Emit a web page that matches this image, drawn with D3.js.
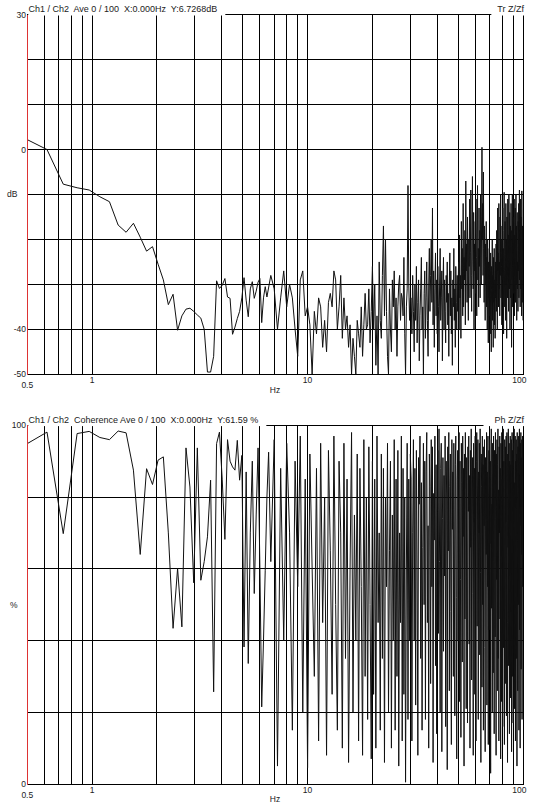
<!DOCTYPE html>
<html>

<head>
    <title>Ch1 / Ch2</title>
    <meta charset="utf-8">
    <script src="https://cdn.jsdelivr.net/npm/d3@7"></script>
    <style>
        body { margin: 0; background: #fff; }
        svg { display: block; font-family: "Liberation Sans", Arial, sans-serif; }
        text { white-space: pre; fill: #222; }
    </style>
</head>

<body>
    <svg width="536" height="810"></svg>
</body>
<script>
    // frequency grids (Hz): start + i * step
    const lowStart = 0.5, lowStep = 0.1171875;
    const midStart = 6.75, midStep = 0.25;
    const highStart = 30.25, highStep = 0.25;

    // transfer function, dB
    const trLow = [
        2.2, 0, -7.7, -8.5, -9.0, -10.5, -11.6, -16.8, -18.4, -16.4,
        -19.5, -22.6, -21.6, -25.5, -29.0, -34.5, -32.2, -40.2, -37.0, -35.5,
        -35.3, -36.0, -36.8, -37.5, -40.0, -49.5, -49.5, -46.0, -29.2, -30.9,
        -30.2, -28.7, -32.8, -33.1, -41.1, -39.5, -37.6, -36.0, -33.0, -28.5,
        -33.5, -37.2, -31.0, -29.4, -33.1, -31.5, -29.5, -28.7, -38.5, -33.0,
        -30.5, -32.8
    ];
    const trMid = [
        -28, -31, -40, -33, -27, -35, -30, -33, -40, -46,
        -29, -27, -37, -35, -39, -50, -36, -41, -33, -35,
        -44, -38, -45, -34, -32, -35, -27, -29, -40, -35,
        -28, -42, -33, -40, -37, -44, -39, -50, -42, -46,
        -50, -38, -41, -44, -35, -46, -39, -32, -40, -39,
        -31, -43, -36, -26, -40, -30, -48, -37, -50, -25,
        -38, -42, -28, -17, -37, -20, -36, -46, -50, -31,
        -40, -45, -29, -35, -27, -40, -33, -46, -35, -30,
        -28, -38, -32, -33, -37, -24, -41, -50, -35, -31,
        -8, -30, -38, -33
    ];
    const trHigh = [
        -33, -41, -28, -36, -45, -30, -38, -26, -43, -34,
        -29, -47, -37, -31, -24, -40, -35, -50, -32, -27,
        -42, -33, -25, -38, -46, -30, -22, -36, -28, -20,
        -34, -13, -39, -27, -44, -31, -23, -37, -29, -41,
        -26, -35, -45, -30, -22, -38, -33, -27, -47, -31,
        -24, -40, -29, -36, -43, -28, -34, -25, -39, -32,
        -46, -30, -23, -37, -27, -41, -33, -48, -29, -35,
        -22, -38, -31, -44, -26, -34, -40, -28, -36, -30,
        -25, -40, -19, -33, -28, -42, -16, -31, -22, -37,
        -12, -35, -24, -29, -18, -39, -7, -27, -21, -34,
        -15, -30, -38, -20, -26, -11, -33, -23, -9, -28,
        -36, -17, -6, -25, -31, -14, -40, -21, -27, -16,
        -32, -11, -24, -37, -19, -8, -29, -22, -35, -13,
        -26, -18, -33, -10, -23, -30, -15, 0.5, -20, -12,
        -28, -5, -22, -34, -17, -26, -38, -21, -30, -16,
        -35, -24, -40, -20, -29, -43, -25, -33, -22, -37,
        -27, -41, -23, -35, -45, -26, -31, -20, -38, -28,
        -44, -24, -34, -22, -39, -29, -42, -25, -33, -21,
        -36, -18, -30, -40, -13, -27, -23, -35, -12, -31,
        -25, -37, -15, -28, -10, -33, -20, -26, -39, -17,
        -29, -13, -34, -22, -41, -18, -9.5, -27, -35, -16,
        -24, -38, -12, -30, -20, -42, -15, -26, -33, -11,
        -28, -19, -36, -10, -25, -31, -14, -40, -22, -17,
        -33, -12, -27, -44, -18, -29, -10, -35, -21, -26,
        -15, -32, -23, -11, -37, -19, -28, -13, -34, -24,
        -10, -30, -17, -38, -22, -14, -31, -25, -36, -16,
        -27, -12, -33, -20, -9, -29, -18, -35, -23, -11,
        -31, -15, -26, -37, -9.2, -21, -34, -17, -28, -38
    ];

    // coherence, %
    const cohLow = [
        94.9, 98.1, 69.8, 97.7, 98.3, 96.6, 96.0, 98.4, 97.9, 87.5,
        64.0, 87.9, 83.5, 90.3, 91.2, 70.0, 43.4, 60.1, 43.8, 93.7,
        82.8, 56.1, 93.7, 56.8, 62.0, 68.9, 84.7, 25.7, 94.9, 98.1,
        85.0, 68.2, 96.0, 90.0, 88.4, 87.5, 95.8, 84.7, 91.6, 38.2,
        87.0, 33.6, 70.0, 90.0, 53.1, 75.0, 93.7, 60.0, 21.5, 40.0,
        59.6, 80.0, 92.5
    ];
    const cohMid = [
        62, 96, 5, 88, 40, 95, 70, 15, 90, 55,
        97, 20, 85, 4.5, 92, 60, 30, 88, 12, 95,
        45, 80, 8, 93, 65, 25, 97, 50, 15, 90,
        70, 10, 95, 35, 85, 6, 60, 98, 20, 75,
        40, 92, 12, 88, 55, 8, 96, 30, 80, 18,
        94, 50, 7, 90, 25, 85, 10, 97, 45, 70,
        15, 92, 35, 88, 6, 80, 55, 95, 20, 65,
        90, 10, 75, 40, 96, 15, 85, 30, 93, 5,
        70, 45, 97, 12, 88, 25, 80, 0.5, 60, 95,
        18, 85, 40, 92
    ];
    const cohHigh = [
        85, 12, 70, 96, 40, 88, 22, 93, 60, 8,
        91, 78, 97, 35, 84, 15, 66, 95, 50, 90,
        18, 87, 98, 45, 72, 10, 92, 83, 28, 96,
        55, 94, 6, 81, 68, 97, 33, 89, 14, 76,
        93, 42, 99, 62, 20, 88, 95, 9, 74, 91,
        37, 86, 58, 97, 16, 90, 80, 4, 94, 65,
        98, 26, 83, 92, 48, 11, 96, 71, 87, 30,
        95, 63, 19, 89, 97, 52, 7, 85, 93, 40,
        79, 98, 23, 90, 57, 13, 95, 84, 34, 97,
        69, 88, 5, 92, 46, 98, 82, 21, 91, 60,
        17, 94, 76, 97, 39, 86, 10, 93, 66, 99,
        29, 84, 91, 53, 8, 95, 73, 88, 25, 97,
        61, 12, 90, 98, 44, 80, 96, 18, 87, 70,
        95, 36, 99, 59, 6, 92, 83, 27, 97, 50,
        89, 15, 94, 72, 96, 38, 9, 91, 85, 64,
        98, 22, 87, 55, 97, 11, 80, 93, 43, 96,
        67, 90, 3, 85, 99, 49, 78, 20, 95, 88,
        31, 97, 62, 14, 93, 86, 41, 98, 74, 8,
        92, 57, 96, 26, 89, 99, 35, 82, 12, 94,
        70, 97, 46, 88, 7, 95, 79, 23, 98, 60,
        85, 16, 93, 99, 38, 90, 54, 11, 96, 81,
        28, 94, 73, 97, 19, 87, 98, 45, 6, 92,
        66, 99, 33, 85, 95, 14, 90, 58, 97, 24,
        89, 48, 96, 9, 82, 98, 30, 93, 71, 17,
        95, 62, 88, 99, 21, 84, 40, 97, 12, 90,
        77, 96, 35, 92, 5, 98, 68, 26, 94, 83,
        50, 97, 15, 89, 99, 43, 86, 10, 95, 72,
        98, 32, 91, 64, 96, 18, 88, 97, 55, 90
    ];

    const freqLabels = [0.5, 1, 10, 100];
    const dbLabels = [30, 0, -40, -50];
    const cohLabels = [100, 0];

    var svg = d3.select("svg");
    var plotLeft = 27.3, plotRight = 523;

    var x = d3.scaleLog().domain([0.5, 100]).range([plotLeft, plotRight]);

    function series(start, step, vals) {
        return vals.map(function (v, i) { return { f: start + i * step, v: v }; });
    }
    function crisp(v) { return Math.round(v - 0.5) + 0.5; }

    function drawPanel(cfg) {
        var y = d3.scaleLinear().domain(cfg.domain).range([cfg.bottom, cfg.top]);
        var g = svg.append("g");

        g.append("clipPath").attr("id", "clip-" + cfg.name)
            .append("rect")
            .attr("x", plotLeft).attr("y", cfg.top)
            .attr("width", plotRight - plotLeft).attr("height", cfg.bottom - cfg.top);

        // grid
        g.append("g").selectAll("line")
            .data(y.ticks(cfg.gridCount))
            .enter().append("line")
            .attr("x1", plotLeft).attr("x2", plotRight + 0.5)
            .attr("y1", function (d) { return crisp(y(d)); })
            .attr("y2", function (d) { return crisp(y(d)); })
            .attr("stroke", "#000").attr("shape-rendering", "crispEdges");

        g.append("g").selectAll("line")
            .data(x.ticks().filter(function (d) { return d > 0.5; }))
            .enter().append("line")
            .attr("x1", function (d) { return crisp(x(d)); })
            .attr("x2", function (d) { return crisp(x(d)); })
            .attr("y1", cfg.top).attr("y2", cfg.bottom)
            .attr("stroke", "#000").attr("shape-rendering", "crispEdges");

        // trace
        g.append("path")
            .datum(cfg.data)
            .attr("clip-path", "url(#clip-" + cfg.name + ")")
            .attr("fill", "none")
            .attr("stroke", "#111")
            .attr("stroke-width", 1)
            .attr("d", d3.line()
                .x(function (d) { return x(d.f); })
                .y(function (d) { return y(d.v); }));

        // red y axis
        g.append("line")
            .attr("x1", crisp(plotLeft)).attr("x2", crisp(plotLeft))
            .attr("y1", cfg.top).attr("y2", cfg.bottom + 0.5)
            .attr("stroke", "#dd3333").attr("shape-rendering", "crispEdges");

        // y labels
        g.append("g").selectAll("text")
            .data(cfg.labels)
            .enter().append("text")
            .attr("x", 26).attr("y", function (d) { return y(d); })
            .attr("dy", "0.35em")
            .attr("text-anchor", "end")
            .attr("font-size", 8.5)
            .text(function (d) { return d; });

        g.append("text")
            .attr("x", 17.5).attr("y", y(cfg.unitAt))
            .attr("dy", "0.35em")
            .attr("text-anchor", "end")
            .attr("font-size", 8.5)
            .text(cfg.unit);

        // x labels
        g.append("g").selectAll("text")
            .data(freqLabels)
            .enter().append("text")
            .attr("x", function (d) { return d === 100 ? x(d) + 3.5 : x(d); })
            .attr("y", function (d) { return cfg.bottom + (d === 0.5 ? 11 : 6); })
            .attr("dy", "0.35em")
            .attr("text-anchor", function (d) { return d === 100 ? "end" : "middle"; })
            .attr("font-size", 8.5)
            .text(function (d) { return d; });

        g.append("text")
            .attr("x", 275).attr("y", cfg.bottom + 15.5)
            .attr("dy", "0.35em")
            .attr("text-anchor", "middle")
            .attr("font-size", 8.5)
            .text("Hz");

        // title with white backing over the top grid line
        var title = g.append("text")
            .attr("x", 28.5).attr("y", cfg.top - 2.3)
            .attr("font-size", 9)
            .text(cfg.title);
        var tb = title.node().getBBox();
        g.insert("rect", function () { return title.node(); })
            .attr("x", plotLeft + 1).attr("y", cfg.top - 13)
            .attr("width", tb.x + tb.width + 8 - plotLeft - 1)
            .attr("height", 13.8)
            .attr("fill", "#fff");

        var tag = g.append("text")
            .attr("x", 524).attr("y", cfg.top - 2.3)
            .attr("text-anchor", "end")
            .attr("font-size", 9)
            .text(cfg.tag);
        var rb = tag.node().getBBox();
        g.insert("rect", function () { return tag.node(); })
            .attr("x", rb.x - cfg.tagPad).attr("y", cfg.top - 13)
            .attr("width", 536 - rb.x + cfg.tagPad)
            .attr("height", 13.8)
            .attr("fill", "#fff");
    }

    drawPanel({
        name: "tr",
        domain: [-50, 30], top: 14.7, bottom: 374.3, gridCount: 8,
        data: series(lowStart, lowStep, trLow)
            .concat(series(midStart, midStep, trMid))
            .concat(series(highStart, highStep, trHigh)),
        labels: dbLabels, unit: "dB", unitAt: -10,
        title: "Ch1 / Ch2  Ave 0 / 100  X:0.000Hz  Y:6.7268dB",
        tag: "Tr Z/Zf", tagPad: 6
    });

    drawPanel({
        name: "coh",
        domain: [0, 100], top: 425.3, bottom: 784, gridCount: 5,
        data: series(lowStart, lowStep, cohLow)
            .concat(series(midStart, midStep, cohMid))
            .concat(series(highStart, highStep, cohHigh)),
        labels: cohLabels, unit: "%", unitAt: 50,
        title: "Ch1 / Ch2  Coherence Ave 0 / 100  X:0.000Hz  Y:61.59 %",
        tag: "Ph Z/Zf", tagPad: 11
    });
</script>

</html>
